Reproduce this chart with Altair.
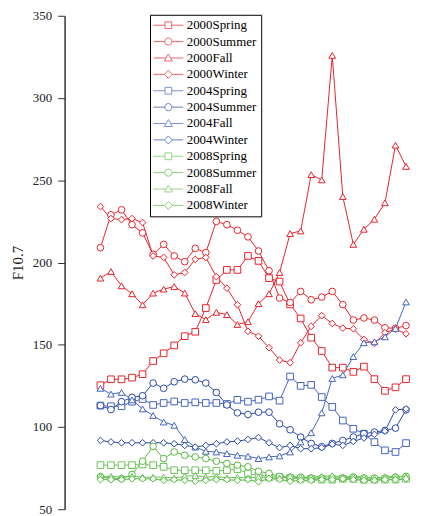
import altair as alt
import pandas as pd

series_names = ["2000Spring", "2000Summer", "2000Fall", "2000Winter",
                "2004Spring", "2004Summer", "2004Fall", "2004Winter",
                "2008Spring", "2008Summer", "2008Fall", "2008Winter"]

s2000_spring = [125.4, 129, 129, 130, 132.1, 140.1, 144.8, 149.6, 155.2, 157.9, 172.3, 189.4, 195.5, 195.5, 204,
                201, 190.5, 188.4, 174.5, 166, 154.3, 146.2, 136.1, 136.1, 133.5, 136.7, 129.1, 122, 124.1, 129.1]
s2000_summer = [209, 229, 232, 223, 218, 205, 211, 204, 200.5, 208.6, 206, 225, 223, 219.6, 215.6,
                207, 195, 178.4, 175.7, 182.4, 177.4, 179, 182.4, 174.4, 165, 166.3, 165, 160.3, 160, 161.7]
s2000_fall = [190.5, 194.5, 185.8, 181, 174.3, 181.4, 183.8, 185.4, 181.4, 168.9, 165.3, 169.7, 168.3, 162.3, 164,
              175, 181, 193.9, 217.6, 219.2, 253.4, 250.2, 325.9, 240.1, 211, 220.2, 226.3, 236.3, 271.3, 258.4]
s2000_winter = [234, 226.7, 226.1, 226.7, 224.3, 204, 203.1, 192.5, 193.9, 201.9, 203.1, 191.4, 184.4, 174.3, 158.2,
                155.2, 148.2, 140.7, 139.1, 151.2, 161.2, 167.7, 162.9, 160.1, 159.7, 153.2, 150.8, 157.3, 159.5, 156.7]
s2004_spring = [113, 112.6, 112.6, 115.4, 117, 113.4, 114.6, 115.5, 114.6, 115, 114.6, 114.6, 114, 116.5, 115.4,
                116.6, 118.6, 116, 130.7, 125, 125.6, 118.2, 112.2, 103.9, 98.9, 95.9, 90.8, 85.8, 84.8, 90.2]
s2004_summer = [113, 110.6, 115.4, 118, 119, 126.7, 123.5, 127.5, 129.1, 128.7, 126.7, 121, 113.4, 108.6, 107.6,
                109, 109, 101.9, 98.3, 93.9, 90, 88, 90, 91.8, 93.9, 95.9, 96.9, 97.9, 99.3, 110.4]
s2004_fall = [123.5, 120, 121, 116.5, 111, 107, 103, 101, 92.4, 87.8, 85.2, 84.8, 83.8, 82.8, 82.2,
              80.8, 81.8, 82.4, 84.8, 90.9, 96.5, 108.6, 129.5, 131.7, 142.8, 151.2, 151.8, 154.8, 159.9, 176]
s2004_winter = [91.8, 90.9, 90.4, 90.4, 90.4, 90.4, 90.4, 89.8, 88.8, 87.8, 88.8, 89.8, 90.9, 91.4, 92.4,
                93.6, 90.4, 87.4, 88.8, 86.8, 86.8, 87.4, 89.5, 88.8, 91.2, 93.3, 95.5, 97.5, 110.4, 111]
s2008_spring = [76.8, 76.8, 76.8, 76.8, 77.2, 76.8, 75.8, 73.7, 73.7, 73.7, 73.7, 73.3, 73.7, 74.4, 71.8,
                70.7, 70, 69.5, 69, 68.5, 68.5, 68, 68, 68.5, 68.5, 68, 68, 68, 68, 68.5]
s2008_summer = [69.8, 68.6, 68.6, 71.1, 79.2, 88.2, 80.8, 84.8, 82.8, 81.8, 80.8, 79.2, 77.8, 76.8, 75.8,
                73.1, 71.8, 70, 69.5, 69.5, 69, 69, 69, 69, 69.5, 69, 69, 69, 69.5, 70]
s2008_fall = [70, 70, 69.5, 70, 69.5, 69.5, 69.5, 69, 70, 70.5, 69.5, 70, 69, 69.5, 69,
              69.5, 69, 69, 70, 69.5, 69.5, 70, 70.5, 69.5, 70, 69.5, 69, 69.5, 70, 70]
s2008_winter = [68, 68, 68, 68.5, 68.5, 68.5, 67.5, 68, 67.5, 67, 67.5, 68, 68, 67.5, 68,
                66.7, 68.7, 68, 67, 67.5, 67.5, 68, 68, 68.5, 68, 67.5, 67.5, 68, 68, 68.5]

all_series = [s2000_spring, s2000_summer, s2000_fall, s2000_winter,
              s2004_spring, s2004_summer, s2004_fall, s2004_winter,
              s2008_spring, s2008_summer, s2008_fall, s2008_winter]

colors = ["#e8232b", "#e8232b", "#e8232b", "#e8232b",
          "#4565bd", "#2b48a5", "#4565bd", "#2b48a5",
          "#6cc35a", "#55b840", "#6cc35a", "#55b840"]
shapes = ["square", "circle", "triangle-up", "diamond"] * 3

legend_paths = [
    "M-3.75,0H-0.85M0.85,0H3.75M-0.85,-0.85H0.85V0.85H-0.85Z",
    "M-3.75,0H-0.9M0.9,0H3.75M-0.9,0A0.9,0.9,0,1,0,0.9,0A0.9,0.9,0,1,0,-0.9,0Z",
    "M-3.75,0H-0.6M0.6,0H3.75M0,-1L1,0.75H-1Z",
    "M-3.75,0H-1M1,0H3.75M0,-1L1,0L0,1L-1,0Z",
] * 3

rows = []
for name, vals in zip(series_names, all_series):
    for i, v in enumerate(vals):
        rows.append({"i": i, "F": v, "series": name})
df = pd.DataFrame(rows)

FONT = "Liberation Serif"
x_scale = alt.Scale(domain=[-3.4, 30.8], nice=False, zero=False)
y_scale = alt.Scale(domain=[50, 350], nice=False, zero=False)
x_ticks = [round(-3.4 + 2.5 * k, 2) for k in range(14)]

color_scale = alt.Scale(domain=series_names, range=colors)

lines = alt.Chart(df).mark_line(strokeWidth=1).encode(
    x=alt.X("i:Q", scale=x_scale,
            axis=alt.Axis(values=x_ticks, labels=False, title=None, tickSize=5, grid=False)),
    y=alt.Y("F:Q", scale=y_scale,
            axis=alt.Axis(values=[50, 100, 150, 200, 250, 300, 350], title="F10.7", grid=False,
                          tickSize=7, labelPadding=6, titlePadding=7)),
    color=alt.Color("series:N", scale=color_scale, legend=None),
    detail="series:N",
)

pts = alt.Chart(df).mark_point(filled=False, fill="white", size=45, strokeWidth=1, opacity=1).encode(
    x=alt.X("i:Q", scale=x_scale, axis=None),
    y=alt.Y("F:Q", scale=y_scale,
            axis=alt.Axis(values=[75, 125, 175, 225, 275, 325], labels=False, title=None,
                          domain=False, tickSize=3, grid=False)),
    color=alt.Color("series:N", scale=color_scale, legend=None),
    shape=alt.Shape("series:N", scale=alt.Scale(domain=series_names, range=shapes), legend=None),
)

leg_props = dict(title=None, orient="none", legendX=86, legendY=-1,
                 labelFont=FONT, labelFontSize=13, labelColor="black", labelLimit=300,
                 symbolSize=64, symbolStrokeWidth=1, symbolOffset=8, labelOffset=12,
                 rowPadding=2.5, padding=4, strokeColor="black", fillColor="white")

leg = alt.Chart(df).transform_filter("false").mark_point(filled=False, size=64, strokeWidth=1).encode(
    color=alt.Color("series:N", scale=color_scale, legend=alt.Legend(**leg_props)),
    shape=alt.Shape("series:N", scale=alt.Scale(domain=series_names, range=legend_paths),
                    legend=alt.Legend(**leg_props)),
)

chart = alt.layer(lines, pts, leg).resolve_scale(
    color="independent", shape="independent"
).resolve_axis(y="independent").properties(
    width=363, height=497,
    autosize=alt.AutoSizeParams(type="none"),
    padding={"left": 57, "top": 6, "right": 0, "bottom": 8},
).configure_view(stroke=None).configure_axis(
    labelFont=FONT, labelFontSize=13, labelColor="#222",
    titleFont=FONT, titleFontSize=15, titleFontWeight="normal", titleColor="#222",
    domainColor="#333", domainWidth=1.5, tickColor="#333", tickWidth=1,
)

chart.save("out.html", embed_options={"renderer": "svg", "actions": False})
